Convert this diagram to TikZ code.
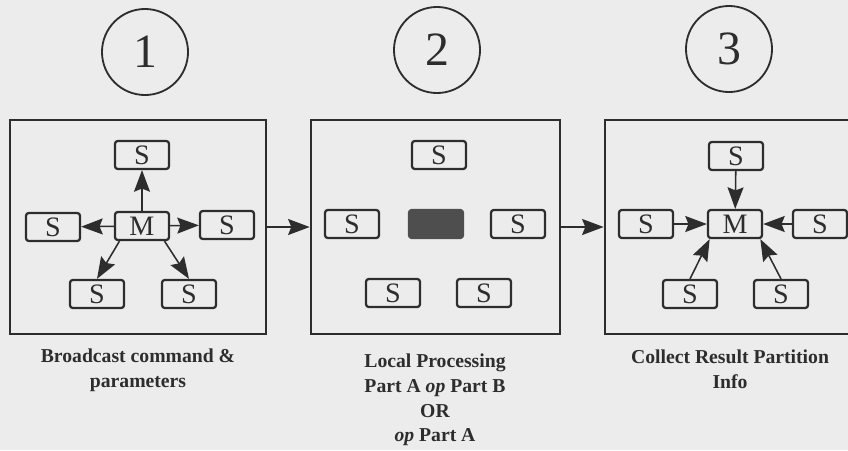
\documentclass[tikz,border=0pt]{standalone}
\usepackage{fontspec}
\setmainfont{Liberation Serif}
\usetikzlibrary{arrows.meta,positioning}
\definecolor{inkgray}{RGB}{45,45,45}
\definecolor{papergray}{RGB}{236,236,236}
\definecolor{busygray}{RGB}{78,78,78}

\begin{document}
\begin{tikzpicture}[x=0.025cm, y=-0.025cm,
  proc/.style={draw=inkgray, line width=1.6pt, rounded corners=2pt, minimum width=1.35cm, minimum height=0.7cm, inner sep=0pt, text=inkgray, font=\fontsize{20}{22}\selectfont},
  busy/.style={proc, fill=busygray, draw=busygray},
  panel/.style={draw=inkgray, line width=1.8pt, minimum height=5.35cm, inner sep=0pt},
  stepnum/.style={circle, draw=inkgray, line width=1.3pt, minimum size=2.15cm, inner sep=0pt, text=inkgray, font=\fontsize{34}{36}\selectfont},
  caption/.style={align=center, text=inkgray, font=\fontsize{14}{17.5}\selectfont\bfseries},
  msg/.style={-{Stealth[length=5.4mm,width=4mm,inset=0.8mm]}, draw=inkgray, line width=1.1pt},
]

% Page
\useasboundingbox (0,0) rectangle (848,450);
\fill[papergray] (0,0) rectangle (848,450);
\clip (0,0) rectangle (848,450);

% Step numbers
\node[stepnum] (n1) at (145,52) {1};
\node[stepnum] (n2) at (437,50) {2};
\node[stepnum] (n3) at (729,49) {3};

% Panels
\node[panel, minimum width=6.4cm] (p1) at (138,227) {};
\node[panel, minimum width=6.225cm] (p2) at (435.5,227) {};
\node[panel, minimum width=6.9cm] (p3) at (743,227) {};

\draw[msg] (p1.east) -- (p2.west);
\draw[msg] (p2.east) -- (p3.west);

% Step 1: broadcast
\node[proc] (m1) at (142,226) {M};
\node[proc] (t1) at (142,155) {S};
\node[proc] (l1) at (53,227) {S};
\node[proc] (r1) at (227,225) {S};
\node[proc] (bl1) at (97,294) {S};
\node[proc] (br1) at (189,294) {S};

\draw[msg] (m1) -- (t1);
\draw[msg] (m1) -- (l1);
\draw[msg] (m1) -- (r1);
\draw[msg] ([xshift=4pt]m1.south west) -- (bl1.north);
\draw[msg] ([xshift=-4pt]m1.south east) -- (br1.north);

% Step 2: local processing
\node[busy] (m2) at (436,224) {};
\node[proc] (t2) at (439,155) {S};
\node[proc] (l2) at (352,224) {S};
\node[proc] (r2) at (518,224) {S};
\node[proc] (bl2) at (393,293) {S};
\node[proc] (br2) at (484,293) {S};

% Step 3: collect
\node[proc] (m3) at (735,224) {M};
\node[proc] (t3) at (736,156) {S};
\node[proc] (l3) at (646,224) {S};
\node[proc] (r3) at (820,224) {S};
\node[proc] (bl3) at (690,294) {S};
\node[proc] (br3) at (781,294) {S};

\draw[msg] (t3) -- (m3);
\draw[msg] (l3) -- (m3);
\draw[msg] (r3) -- (m3);
\draw[msg] (bl3.north) -- ([xshift=2pt]m3.south west);
\draw[msg] (br3.north) -- ([xshift=-2pt]m3.south east);

% Captions
\node[caption] (c1) at (138,370) {Broadcast command \&\\parameters};
\node[caption] (c2) at (435,400) {Local Processing\\Part A \textit{op} Part B\\OR\\\textit{op} Part A};
\node[caption] (c3) at (730,369) {Collect Result Partition\\Info};

\end{tikzpicture}
\end{document}
